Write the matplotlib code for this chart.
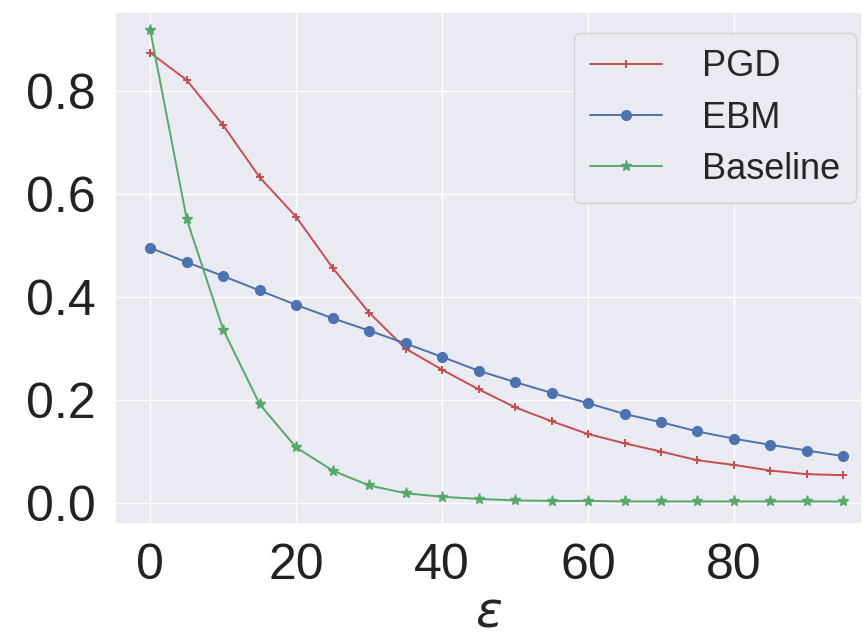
import matplotlib
matplotlib.use("Agg")
import matplotlib.pyplot as plt
import seaborn as sns

# perturbation budget
eps = [0, 5, 10, 15, 20, 25, 30, 35, 40, 45, 50, 55, 60, 65, 70, 75, 80, 85, 90, 95]

pgd = [0.875, 0.822, 0.734, 0.633, 0.556, 0.457, 0.370, 0.300, 0.259, 0.221,
       0.186, 0.159, 0.134, 0.116, 0.100, 0.083, 0.074, 0.063, 0.056, 0.054]
ebm = [0.496, 0.468, 0.441, 0.413, 0.385, 0.359, 0.335, 0.310, 0.284, 0.257,
       0.235, 0.214, 0.194, 0.173, 0.157, 0.139, 0.125, 0.113, 0.102, 0.091]
baseline = [0.919, 0.552, 0.337, 0.192, 0.108, 0.063, 0.034, 0.019, 0.012, 0.008,
            0.005, 0.004, 0.004, 0.003, 0.003, 0.003, 0.003, 0.003, 0.003, 0.003]

sns.set_theme(style="darkgrid")
plt.rcParams["font.family"] = ["Liberation Sans", "DejaVu Sans"]

fig = plt.figure(figsize=(8.66, 6.44), dpi=100)
ax = fig.add_axes([0.133, 0.187, 0.862, 0.795])

red, blue, green = "#C44E52", "#4C72B0", "#55A868"
ax.plot(eps, pgd, "+-", color=red, lw=1.4, ms=6, mew=1.4, label="PGD")
ax.plot(eps, ebm, "o-", color=blue, lw=1.4, ms=7, label="EBM")
ax.plot(eps, baseline, "*-", color=green, lw=1.4, ms=8, label="Baseline")

ax.set_xlim(-4.8, 97.5)
ax.set_ylim(-0.04, 0.955)
ax.set_xticks([0, 20, 40, 60, 80])
ax.set_yticks([0.0, 0.2, 0.4, 0.6, 0.8])
ax.tick_params(labelsize=36, pad=8, labelcolor="#222222")
ax.set_xlabel(r"$\varepsilon$", fontsize=36, labelpad=1)

ax.legend(loc="upper right", bbox_to_anchor=(0.993, 0.958), fontsize=26,
          handlelength=2.0, borderpad=0.45, labelspacing=0.45,
          handletextpad=1.1, borderaxespad=0)

fig.savefig("out.png", dpi=100)
